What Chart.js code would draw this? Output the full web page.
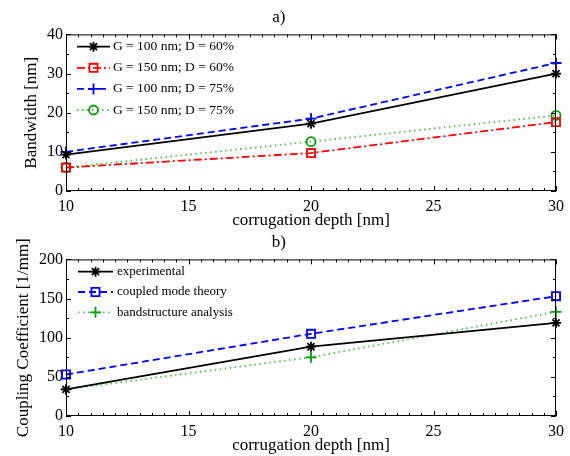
<!DOCTYPE html>
<html>
<head>
<meta charset="utf-8">
<script src="https://cdn.jsdelivr.net/npm/chart.js@4"></script>
<style>
  html, body { margin: 0; padding: 0; background: #fff; }
  #wrap { position: relative; width: 570px; height: 456px; overflow: hidden; }
  canvas { position: absolute; left: 0; }
  #chartA { top: 0; }
  #chartB { top: 225px; }
</style>
</head>
<body>
<div id="wrap">
  <canvas id="chartA" width="570" height="231"></canvas>
  <canvas id="chartB" width="570" height="231"></canvas>
</div>
<script>
'use strict';

// corrugation depth [nm]
const depth = [10, 20, 30];

// a) bandwidth [nm]
const bwG100D60 = [9.3, 17.2, 30];
const bwG150D60 = [6, 9.7, 17.6];
const bwG100D75 = [10, 18.5, 32.7];
const bwG150D75 = [6, 12.6, 19.3];
const bwLabels = ['G = 100 nm; D = 60%', 'G = 150 nm; D = 60%', 'G = 100 nm; D = 75%', 'G = 150 nm; D = 75%'];

// b) coupling coefficient [1/mm]
const kExperimental = [34, 88.5, 119];
const kCoupledMode = [53, 105, 153];
const kBandstructure = [34, 75, 133];
const kLabels = ['experimental', 'coupled mode theory', 'bandstructure analysis'];

const SERIF = '"Liberation Serif", "DejaVu Serif", serif';

function pts(xs, ys) {
    return xs.map((x, i) => ({ x, y: ys[i] }));
}

function series(label, data, color, dash, pointStyle, radius, opts = {}) {
    return {
        label, data,
        borderColor: color,
        borderWidth: 1.8,
        borderDash: dash,
        pointStyle,
        pointRadius: radius,
        pointHoverRadius: radius,
        pointBorderColor: opts.pointColor || color,
        pointBackgroundColor: 'rgba(0,0,0,0)',
        pointBorderWidth: 1.8,
        tension: 0,
        fill: false,
        clip: false
    };
}

// MATLAB style box with inward major + minor ticks on all four sides
const boxTicks = {
    id: 'boxTicks',
    afterDatasetsDraw(chart, args, o) {
        const { ctx, chartArea: a, scales: { x, y } } = chart;
        ctx.save();
        ctx.strokeStyle = '#000';
        ctx.lineWidth = 1;
        ctx.setLineDash([]);
        ctx.strokeRect(a.left + 0.5, a.top + 0.5, a.right - a.left - 1, a.bottom - a.top - 1);
        ctx.beginPath();
        for (let v = x.min; v <= x.max + 1e-9; v += o.xMinor) {
            const px = Math.round(x.getPixelForValue(v)) + 0.5;
            const len = Math.abs(v / o.xMajor - Math.round(v / o.xMajor)) < 1e-6 ? 5 : 3;
            ctx.moveTo(px, a.bottom); ctx.lineTo(px, a.bottom - len);
            ctx.moveTo(px, a.top); ctx.lineTo(px, a.top + len);
        }
        for (let v = y.min; v <= y.max + 1e-9; v += o.yMinor) {
            const py = Math.round(y.getPixelForValue(v)) + 0.5;
            const len = Math.abs(v / o.yMajor - Math.round(v / o.yMajor)) < 1e-6 ? 5 : 3;
            ctx.moveTo(a.left, py); ctx.lineTo(a.left + len, py);
            ctx.moveTo(a.right, py); ctx.lineTo(a.right - len, py);
        }
        ctx.stroke();
        ctx.restore();
    }
};

// legend with line sample and marker in the middle, no frame
const lineLegend = {
    id: 'lineLegend',
    afterDatasetsDraw(chart, args, o) {
        const { ctx, chartArea: a } = chart;
        ctx.save();
        chart.data.datasets.forEach((ds, i) => {
            const yy = o.top + i * o.rowGap;
            const x0 = a.left + o.lineStart, x1 = a.left + o.lineEnd;
            ctx.strokeStyle = ds.borderColor;
            ctx.lineWidth = ds.borderWidth;
            ctx.setLineDash(ds.borderDash || []);
            ctx.beginPath();
            ctx.moveTo(x0, yy); ctx.lineTo(x1, yy);
            ctx.stroke();
            ctx.setLineDash([]);
            ctx.strokeStyle = ds.pointBorderColor;
            ctx.fillStyle = ds.pointBackgroundColor;
            ctx.lineWidth = ds.pointBorderWidth;
            Chart.helpers.drawPoint(ctx, {
                pointStyle: ds.pointStyle, radius: ds.pointRadius,
                borderWidth: ds.pointBorderWidth, rotation: 0
            }, (x0 + x1) / 2, yy);
            ctx.fillStyle = '#000';
            ctx.font = o.font;
            ctx.textBaseline = 'middle';
            ctx.textAlign = 'left';
            ctx.fillText(ds.label, a.left + o.textStart, yy);
        });
        ctx.restore();
    }
};

function makeChart(id, title, datasets, yMax, yStep, yTitle, yTitlePad, tickOpts, legendOpts) {
    return new Chart(document.getElementById(id), {
        type: 'line',
        data: { datasets },
        options: {
            responsive: false,
            animation: false,
            devicePixelRatio: 1,
            layout: { padding: { left: 0, right: 12.3, top: 0, bottom: 0 } },
            plugins: {
                legend: { display: false },
                tooltip: { enabled: false },
                title: {
                    display: true, text: title, color: '#000',
                    font: { family: SERIF, size: 17, weight: 'normal', lineHeight: 1.2 },
                    padding: { top: 7, bottom: 7 }
                },
                boxTicks: tickOpts,
                lineLegend: legendOpts
            },
            scales: {
                x: {
                    type: 'linear', min: 10, max: 30,
                    afterFit(s) { s.height = 40; },
                    grid: { display: false, drawTicks: false },
                    border: { display: false },
                    ticks: { stepSize: 5, padding: 6, color: '#000', font: { family: SERIF, size: 16 } },
                    title: {
                        display: true, text: 'corrugation depth [nm]', color: '#000',
                        font: { family: SERIF, size: 17, lineHeight: 1.2 },
                        padding: { top: 0, bottom: 0 }
                    }
                },
                y: {
                    min: 0, max: yMax,
                    afterFit(s) { s.width = 66; },
                    grid: { display: false, drawTicks: false },
                    border: { display: false },
                    ticks: { stepSize: yStep, padding: 3, color: '#000', font: { family: SERIF, size: 16 } },
                    title: {
                        display: true, text: yTitle, color: '#000',
                        font: { family: SERIF, size: 17, lineHeight: 1.2 },
                        padding: { top: yTitlePad, bottom: 0 }
                    }
                }
            }
        },
        plugins: [boxTicks, lineLegend]
    });
}

makeChart('chartA', 'a)', [
    series(bwLabels[0], pts(depth, bwG100D60), '#000000', [], 'star', 5),
    series(bwLabels[1], pts(depth, bwG150D60), '#ff0000', [8, 3, 2, 3], 'rect', 5.7),
    series(bwLabels[2], pts(depth, bwG100D75), '#0000ff', [7, 4], 'cross', 5.5),
    series(bwLabels[3], pts(depth, bwG150D75), '#44c044', [1.5, 3.5], 'circle', 4.5, { pointColor: '#00a000' })
], 40, 10, 'Bandwidth [nm]', 21.5,
    { xMajor: 5, xMinor: 0.5, yMajor: 10, yMinor: 5 },
    { top: 46.7, rowGap: 21.1, lineStart: 11, lineEnd: 44, textStart: 47, font: '13.5px ' + SERIF });

makeChart('chartB', 'b)', [
    series(kLabels[0], pts(depth, kExperimental), '#000000', [], 'star', 5),
    series(kLabels[1], pts(depth, kCoupledMode), '#0000ff', [7, 4], 'rect', 5.7),
    series(kLabels[2], pts(depth, kBandstructure), '#44c044', [1.5, 3.5], 'cross', 5.5, { pointColor: '#00a000' })
], 200, 50, 'Coupling Coefficient [1/mm]', 13.3,
    { xMajor: 5, xMinor: 0.5, yMajor: 50, yMinor: 25 },
    { top: 46.7, rowGap: 20.3, lineStart: 12, lineEnd: 47, textStart: 51, font: '13px ' + SERIF });
</script>
</body>
</html>
